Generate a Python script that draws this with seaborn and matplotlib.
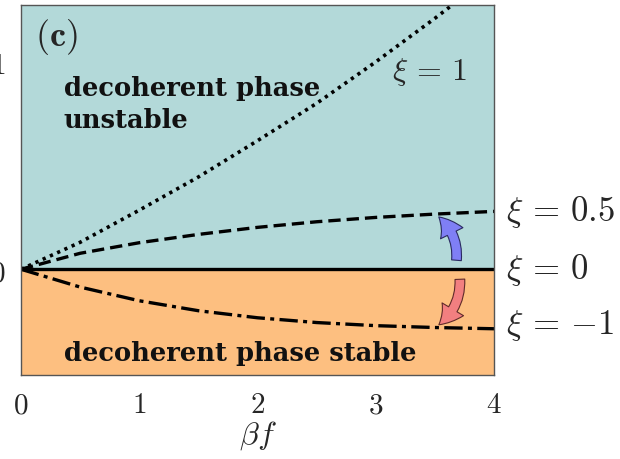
import numpy as np
import pandas as pd
import matplotlib
matplotlib.use("Agg")
import matplotlib.pyplot as plt
from matplotlib.patches import FancyArrowPatch
import seaborn as sns

# Phase boundaries in the (beta f, stability) plane for several xi values
beta_f = [0.0, 0.5, 1.0, 1.5, 2.0, 2.5, 3.0, 3.5, 4.0]
boundary_xi_1 = [0.0, 0.13, 0.285, 0.445, 0.62, 0.80, 1.0, 1.21, 1.43]
boundary_xi_05 = [0.0, 0.077, 0.128, 0.168, 0.202, 0.229, 0.250, 0.266, 0.279]
boundary_xi_0 = [0.0, 0.0, 0.0, 0.0, 0.0, 0.0, 0.0, 0.0, 0.0]
boundary_xi_m1 = [0.0, -0.086, -0.152, -0.200, -0.234, -0.257, -0.272, -0.281, -0.287]

x_ticks = [0, 1, 2, 3, 4]
y_ticks = [0, 1]
curve_labels = [r"$\xi\,=\,0.5$", r"$\xi\,=\,0$", r"$\xi\,=\,{-1}$"]

sns.set_theme(style="white")
plt.rcParams["mathtext.fontset"] = "cm"
plt.rcParams["font.family"] = ["DejaVu Serif", "DejaVu Sans"]

fig = plt.figure(figsize=(6.2, 4.6), dpi=100)
ax = fig.add_axes([0.0339, 0.1826, 0.7629, 0.8033])

ymin, ymax = -0.51, 1.272
ax.set_xlim(0, 4)
ax.set_ylim(ymin, ymax)

# background regions
ax.axhspan(0, ymax, color="#b3d9d9", zorder=0)
ax.axhspan(ymin, 0, color="#fdbf80", zorder=0)

df = pd.DataFrame({"bf": beta_f, "xi1": boundary_xi_1, "xi05": boundary_xi_05,
                   "xi0": boundary_xi_0, "xim1": boundary_xi_m1})

sns.lineplot(data=df, x="bf", y="xi1", ax=ax, color="black", lw=2.6, zorder=3)
ax.lines[-1].set_dashes((0.9, 1.3))
sns.lineplot(data=df, x="bf", y="xi05", ax=ax, color="black", lw=2.4, zorder=3)
ax.lines[-1].set_dashes((3.7, 1.8))
sns.lineplot(data=df, x="bf", y="xi0", ax=ax, color="black", lw=2.4, zorder=3)
sns.lineplot(data=df, x="bf", y="xim1", ax=ax, color="black", lw=2.4, zorder=3)
ax.lines[-1].set_dashes((5.5, 1.6, 1.2, 1.6))

# arrows showing how the boundary moves with xi
i35 = beta_f.index(3.5)
style = "simple,head_width=18,head_length=15,tail_width=7"
up = FancyArrowPatch((3.68, 0.03), (3.515, boundary_xi_05[i35] - 0.005),
                     connectionstyle="arc3,rad=0.28", arrowstyle=style,
                     mutation_scale=1, facecolor="#7f7ff5", edgecolor="#2a2a60",
                     lw=0.8, zorder=4)
down = FancyArrowPatch((3.71, -0.035), (3.515, boundary_xi_m1[i35] + 0.005),
                       connectionstyle="arc3,rad=-0.28", arrowstyle=style,
                       mutation_scale=1, facecolor="#f27f80", edgecolor="#602a2a",
                       lw=0.8, zorder=4)
ax.add_patch(up)
ax.add_patch(down)

# text annotations
bold = dict(family="DejaVu Serif", weight="bold", fontsize=18.5, color="#111111",
            va="center", ha="left")
ax.text(0.12, 1.125, r"$\mathbf{(c)}$", fontsize=26, va="center", ha="left")
ax.text(0.36, 0.875, "decoherent phase", **bold)
ax.text(0.36, 0.72, "unstable", **bold)
ax.text(0.36, -0.40, "decoherent phase stable", **bold)
ax.text(3.14, 0.957, r"$\xi\,=\,1$", fontsize=23, va="center", ha="left")

for lab, yv in zip(curve_labels, [boundary_xi_05[-1], boundary_xi_0[-1], boundary_xi_m1[-1] + 0.02]):
    ax.text(4.1, yv, lab, fontsize=25, va="center", ha="left", clip_on=False)

ax.set_xticks(x_ticks)
ax.set_xticklabels([f"${v}$" for v in x_ticks], fontsize=21)
ax.set_yticks(y_ticks)
ax.set_yticklabels([f"${v}$" for v in y_ticks], fontsize=21)
ax.tick_params(axis="both", length=0, pad=11)
ax.set_xlabel(r"$\beta f$", fontsize=23, labelpad=0)
ax.set_ylabel("")

for sp in ax.spines.values():
    sp.set_color("#555555")
    sp.set_linewidth(1.0)
    sp.set_zorder(5)

fig.savefig("out.png", dpi=100)
